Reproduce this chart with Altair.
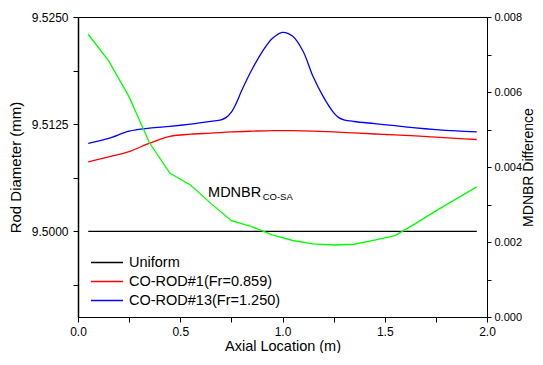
import altair as alt
import pandas as pd

# ---------------- data ----------------
series_names = ["Uniform", "CO-ROD#1(Fr=0.859)", "CO-ROD#13(Fr=1.250)"]
series_colors = ["#000000", "#FF0000", "#0000FF"]

x_uniform = [0.05, 1.95]
y_uniform = [9.5000, 9.5000]

x_red = [0.05, 0.15, 0.25, 0.35, 0.45, 0.55, 0.65, 0.75, 0.85, 0.95,
         1.05, 1.15, 1.25, 1.35, 1.45, 1.55, 1.65, 1.75, 1.85, 1.95]
y_red = [9.50810, 9.50868, 9.50929, 9.51028, 9.51107, 9.51133, 9.51145, 9.51159, 9.51168, 9.51175,
         9.51174, 9.51168, 9.51159, 9.51147, 9.51135, 9.51124, 9.51112, 9.51098, 9.51084, 9.51071]

x_blue = [0.05, 0.15, 0.25, 0.35, 0.45, 0.55, 0.65, 0.70, 0.725, 0.75, 0.775, 0.80, 0.85, 0.90,
          0.95, 1.00, 1.05, 1.10, 1.15, 1.20, 1.25, 1.275, 1.30, 1.35, 1.45, 1.55, 1.65,
          1.75, 1.85, 1.95]
y_blue = [9.51025, 9.51083, 9.51168, 9.51203, 9.51224, 9.51250, 9.51282, 9.51300, 9.51329, 9.51390,
          9.51501, 9.51639, 9.51884, 9.52091, 9.52249, 9.52321, 9.52275, 9.52103, 9.51803, 9.51568,
          9.51384, 9.51326, 9.51301, 9.51281, 9.51256, 9.51232, 9.51206, 9.51186, 9.51171, 9.51160]

x_green = [0.05, 0.15, 0.25, 0.35, 0.45, 0.55, 0.65, 0.75, 0.85, 0.95,
           1.05, 1.15, 1.25, 1.35, 1.45, 1.55, 1.65, 1.75, 1.85, 1.95]
y_green = [0.00754, 0.00683, 0.00587, 0.00464, 0.00383, 0.00352, 0.00303, 0.00257, 0.00241, 0.00219,
           0.00204, 0.00195, 0.00192, 0.00194, 0.00205, 0.00217, 0.00249, 0.00283, 0.00315, 0.00347]

x_ticks = [0.0, 0.25, 0.5, 0.75, 1.0, 1.25, 1.5, 1.75, 2.0]
left_ticks = [9.49375, 9.5000, 9.50625, 9.5125, 9.51875, 9.5250]
right_ticks = [0.000, 0.001, 0.002, 0.003, 0.004, 0.005, 0.006, 0.007, 0.008]

annot_main = {"x": 0.636, "y": 9.50401, "t": "MDNBR"}
annot_sub = {"x": 0.903, "y": 9.50362, "t": "CO-SA"}

# ---------------- tables ----------------
rows = []
for name, xs, ys in [(series_names[0], x_uniform, y_uniform),
                     (series_names[1], x_red, y_red),
                     (series_names[2], x_blue, y_blue)]:
    for a, b in zip(xs, ys):
        rows.append({"x": a, "y": b, "series": name})
left_df = pd.DataFrame(rows)
green_df = pd.DataFrame({"x": x_green, "v": y_green})

FONT = "Liberation Sans"

x_enc = alt.X("x:Q",
              scale=alt.Scale(domain=[0, 2], nice=False),
              axis=alt.Axis(values=x_ticks,
                            labelExpr="abs(datum.value*2 - round(datum.value*2)) < 1e-6 ? format(datum.value, '.1f') : ''",
                            title="Axial Location (m)", tickSize=5, labelPadding=4,
                            titleBaseline="alphabetic", titleY=33.5, titleX=204.5,
                            titleAlign="center", titleFontSize=14.5, grid=False))

y_left = alt.Y("y:Q",
               scale=alt.Scale(domain=[9.49, 9.525], nice=False, zero=False),
               axis=alt.Axis(values=left_ticks,
                             labelExpr="abs(datum.value*80 - round(datum.value*80)) < 1e-6 ? format(datum.value, '.4f') : ''",
                             title="Rod Diameter (mm)", tickSize=5, labelPadding=5,
                             titlePadding=8, grid=False, domainWidth=1.5))

lines = alt.Chart(left_df).mark_line(strokeWidth=1.3, interpolate="catmull-rom").encode(
    x=x_enc,
    y=y_left,
    color=alt.Color("series:N",
                    scale=alt.Scale(domain=series_names, range=series_colors),
                    sort=series_names,
                    legend=alt.Legend(title=None, orient="none", legendX=12, legendY=238,
                                      symbolType="stroke", symbolSize=1024, clipHeight=15,
                                      symbolStrokeWidth=1.5, labelFontSize=14.5,
                                      labelFont=FONT, labelOffset=5, rowPadding=3,
                                      padding=0, labelColor="black")),
)

t_main = alt.Chart(pd.DataFrame([annot_main])).mark_text(
    align="left", baseline="alphabetic", fontSize=14.5, font=FONT, color="black"
).encode(x=x_enc, y=y_left, text="t:N")

t_sub = alt.Chart(pd.DataFrame([annot_sub])).mark_text(
    align="left", baseline="alphabetic", fontSize=9.5, font=FONT, color="black"
).encode(x=x_enc, y=y_left, text="t:N")

left_layer = alt.layer(lines, t_main, t_sub)

green = alt.Chart(green_df).mark_line(strokeWidth=1.3, color="#00FF00").encode(
    x=x_enc,
    y=alt.Y("v:Q",
            scale=alt.Scale(domain=[0, 0.008], nice=False),
            axis=alt.Axis(orient="right", values=right_ticks,
                          labelExpr="abs(datum.value*500 - round(datum.value*500)) < 1e-6 ? format(datum.value, '.3f') : ''",
                          title="MDNBR Difference", titleAngle=270, titleBaseline="alphabetic",
                          titleAlign="center", titleX=45, titleY=150, titleFontSize=14,
                          labelFontSize=11, tickSize=4, labelPadding=3, grid=False)),
)

chart = alt.layer(left_layer, green).resolve_scale(y="independent").properties(
    width=409, height=300,
    autosize=alt.AutoSizeParams(type="none"),
    padding={"left": 70, "top": 9, "right": 48, "bottom": 36},
).configure_view(
    stroke="black", strokeWidth=1
).configure_axis(
    labelFont=FONT, titleFont=FONT, labelFontSize=12, titleFontSize=15,
    titleFontWeight="normal", labelColor="black", titleColor="black",
    domainColor="black", tickColor="black", labelFlush=False
)

chart.save("out.html", embed_options={"renderer": "svg", "actions": False})
